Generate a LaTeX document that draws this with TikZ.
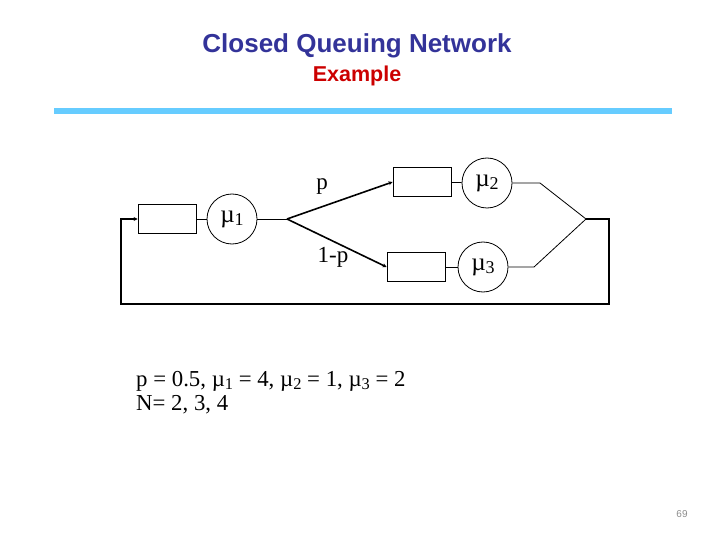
\documentclass[tikz,border=0pt]{standalone}
\usepackage{fontspec}
\setmainfont{Liberation Serif}
\newfontfamily\headfont{Liberation Sans}
\usetikzlibrary{arrows.meta}

\definecolor{titleblue}{RGB}{51,51,153}
\definecolor{titlered}{RGB}{204,0,0}
\definecolor{barblue}{RGB}{102,204,255}

\newcommand{\musub}[1]{\textmu\raisebox{-0.3ex}{\scalebox{0.72}{#1}}}

\begin{document}
\begin{tikzpicture}[x=1pt, y=-1pt,
    queue/.style={rectangle, draw=black, line width=0.8pt, minimum width=58pt, minimum height=29pt, inner sep=0pt},
    server/.style={circle, draw=black, line width=0.8pt, minimum size=50pt, inner sep=0pt, font=\fontsize{25}{25}\selectfont},
    edge/.style={black, line width=0.8pt},
    flow/.style={black, line width=1.6pt},
    tip/.style={-{Stealth[length=4pt, width=4pt]}}
]
    \useasboundingbox (0,0) rectangle (720,540);

    % --- Title ---
    \node[font=\headfont\bfseries\fontsize{26}{26}\selectfont, text=titleblue] (title) at (357,46) {Closed Queuing Network};
    \node[font=\headfont\bfseries\fontsize{21.5}{21.5}\selectfont, text=titlered] (sub) at (357,76) {Example};
    \fill[barblue] (54,108) rectangle (672,114);

    % --- Station 1 ---
    \node[queue]  (Q1) at (167,219) {};
    \node[server] (S1) at (232,219) {\musub{1}};
    \coordinate (split) at (287,219);

    % --- Stations 2 and 3 ---
    \node[queue]  (Q2) at (422,182) {};
    \node[server] (S2) at (487,183) {\musub{2}};
    \node[queue]  (Q3) at (416,267) {};
    \node[server] (S3) at (483,267) {\musub{3}};

    % --- Join ---
    \coordinate (J2) at (540,183);
    \coordinate (J3) at (534,267);
    \coordinate (join) at (586,219);
    \coordinate (R1) at (609,219);
    \coordinate (R2) at (609,304);
    \coordinate (R3) at (121,304);
    \coordinate (R4) at (121,219);

    \draw[edge] (Q1) -- (S1);
    \draw[edge] (S1) -- (split);
    \draw[flow, tip] (split) -- (Q2.west);
    \draw[flow, tip] (split) -- (Q3.west);
    \draw[edge] (Q2) -- (S2);
    \draw[edge] (Q3) -- (S3);

    \draw[edge] (S2) -- (J2) -- (join);
    \draw[edge] (S3) -- (J3) -- (join);
    \draw[flow, tip] (join) -- (R1) -- (R2) -- (R3) -- (R4) -- (Q1.west);

    % --- Branch labels ---
    \node[font=\fontsize{23}{23}\selectfont] (lp) at (322,187) {p};
    \node[font=\fontsize{23}{23}\selectfont] (lq) at (333,257) {1-p};

    % --- Parameters ---
    \node[font=\fontsize{22.8}{24}\selectfont, anchor=north west, align=left, inner sep=0pt] (params) at (136,371)
        {p = 0.5, \musub{1} = 4, \musub{2} = 1, \musub{3} = 2\\N= 2, 3, 4};

    % --- Page ---
    \node[font=\headfont\fontsize{10}{10}\selectfont, text=black!45] (page) at (682,514) {69};
\end{tikzpicture}
\end{document}
